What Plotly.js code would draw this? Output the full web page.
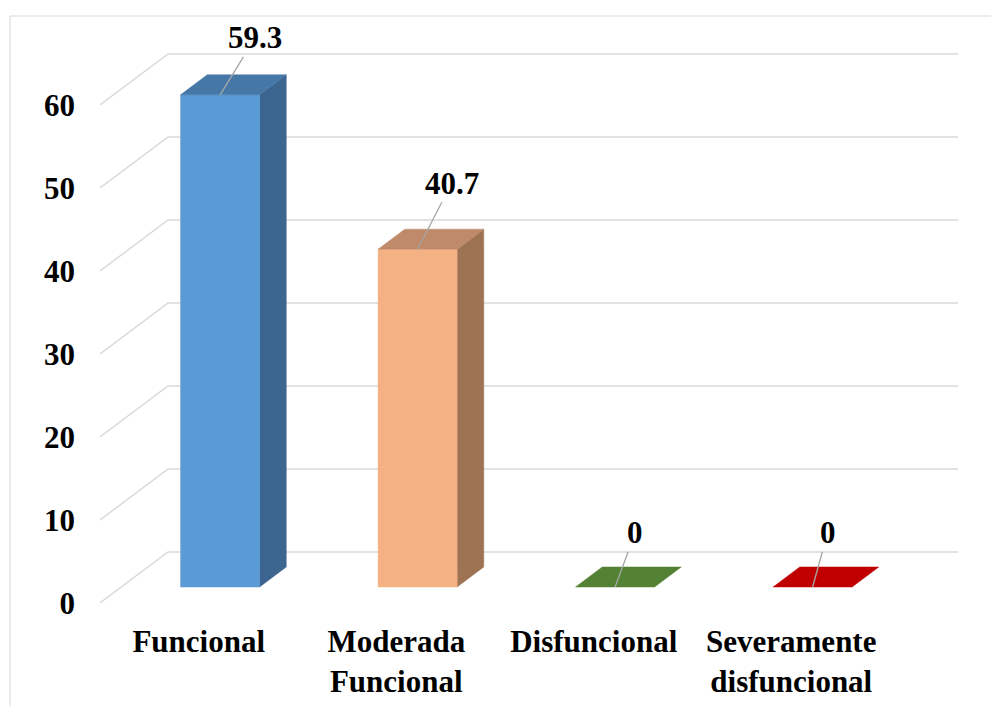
<!DOCTYPE html>
<html>
<head>
<meta charset="utf-8">
<script src="https://cdn.plot.ly/plotly-3.0.1.min.js"></script>
<style>html,body{margin:0;padding:0;background:#fff;}#chart{width:991px;height:706px;}</style>
</head>
<body>
<div id="chart"></div>
<script>
// ---- data ----
var categories = ['Funcional', 'Moderada Funcional', 'Disfuncional', 'Severamente disfuncional'];
var tickLabels = ['Funcional', 'Moderada<br>Funcional', 'Disfuncional', 'Severamente<br>disfuncional'];
var values = [59.3, 40.7, 0, 0];
var yTicks = [0, 10, 20, 30, 40, 50, 60];

// ---- style ----
var frontColors = ['#5B9BD5', '#F4B183', '#548235', '#C00000'];
var sideColors  = ['#3C6590', '#9E7354', '#3E6127', '#900000'];
var topColors   = ['#4577A7', '#BE8A69', '#548235', '#C00000'];
var labelOffsets = [[35, -57], [34, -66], [20, -54], [15, -54]];
var FONT = {family: 'Liberation Serif', size: 31, color: '#000000', weight: 'bold'};
var GRID = '#D9D9D9';

// geometry of the oblique projection (pixels)
var W = 991, H = 706;
var mL = 100, mR = 11, mT = 20, mB = 86;
var pxPerCat = 197.5, pxPerUnit = 8.3;
var zeroPx = 603;                   // pixel of value 0 on the front edge
var depthPxX = 68, depthPxY = 51;   // full depth shift of the walls
var DX = depthPxX / pxPerCat, DY = depthPxY / pxPerUnit;
var dFront = 0.314, dBack = 0.706, halfW = 0.2;

var plotW = W - mL - mR, plotH = H - mT - mB;
var xRange = [0, plotW / pxPerCat];
var yRange = [-(mT + plotH - zeroPx) / pxPerUnit, (zeroPx - mT) / pxPerUnit];

function P(x, v, d) { return [x + d * DX, v + d * DY]; }
function poly(pts, color, lineColor) {
  var xs = pts.map(function (p) { return p[0]; });
  var ys = pts.map(function (p) { return p[1]; });
  xs.push(xs[0]); ys.push(ys[0]);
  return {type: 'scatter', mode: 'lines', x: xs, y: ys, fill: 'toself', fillcolor: color,
          line: {color: lineColor || color, width: 0.5}, hoverinfo: 'skip', showlegend: false};
}

var traces = [];
// gridlines: left wall diagonal + back wall horizontal
yTicks.forEach(function (t) {
  var a = P(0, t, 0), b = P(0, t, 1), c = P(categories.length, t, 1);
  traces.push({type: 'scatter', mode: 'lines', x: [a[0], b[0], c[0]], y: [a[1], b[1], c[1]],
               line: {color: GRID, width: 1.5}, hoverinfo: 'skip', showlegend: false});
});

var annotations = [];
values.forEach(function (v, i) {
  var xc = i + 0.5, xl = xc - halfW, xr = xc + halfW;
  if (v > 0) {
    traces.push(poly([P(xr, 0, dFront), P(xr, 0, dBack), P(xr, v, dBack), P(xr, v, dFront)], sideColors[i]));
    traces.push(poly([P(xl, 0, dFront), P(xr, 0, dFront), P(xr, v, dFront), P(xl, v, dFront)], frontColors[i]));
  }
  traces.push(poly([P(xl, v, dFront), P(xr, v, dFront), P(xr, v, dBack), P(xl, v, dBack)], topColors[i]));
  var anchor = P(xc, v, dFront);
  annotations.push({x: anchor[0], y: anchor[1], xref: 'x', yref: 'y', text: String(v),
    showarrow: true, arrowhead: 0, arrowwidth: 1.3, arrowcolor: '#A6A6A6',
    ax: labelOffsets[i][0], ay: labelOffsets[i][1], font: FONT});
});

var layout = {
  width: W, height: H,
  margin: {l: mL, r: mR, t: mT, b: mB},
  paper_bgcolor: '#FFFFFF', plot_bgcolor: 'rgba(0,0,0,0)',
  showlegend: false,
  font: FONT,
  xaxis: {range: xRange, tickvals: categories.map(function (c, i) { return i + 0.5; }),
          ticktext: tickLabels, showgrid: false, zeroline: false, showline: false, ticks: '',
          tickfont: FONT, ticklabelstandoff: 0, fixedrange: true},
  yaxis: {range: yRange, tickvals: yTicks, ticktext: yTicks.map(String),
          showgrid: false, zeroline: false, showline: false, ticks: '',
          tickfont: FONT, ticklabelstandoff: 24, fixedrange: true},
  annotations: annotations,
  shapes: [{type: 'rect', xref: 'paper', yref: 'paper',
            x0: (10 - mL) / plotW, x1: 1.2, y0: -0.3, y1: (mT + plotH - 16) / plotH,
            line: {color: GRID, width: 1}, fillcolor: 'rgba(0,0,0,0)', layer: 'below'}]
};

Plotly.newPlot('chart', traces, layout, {displayModeBar: false, staticPlot: true});
</script>
</body>
</html>
